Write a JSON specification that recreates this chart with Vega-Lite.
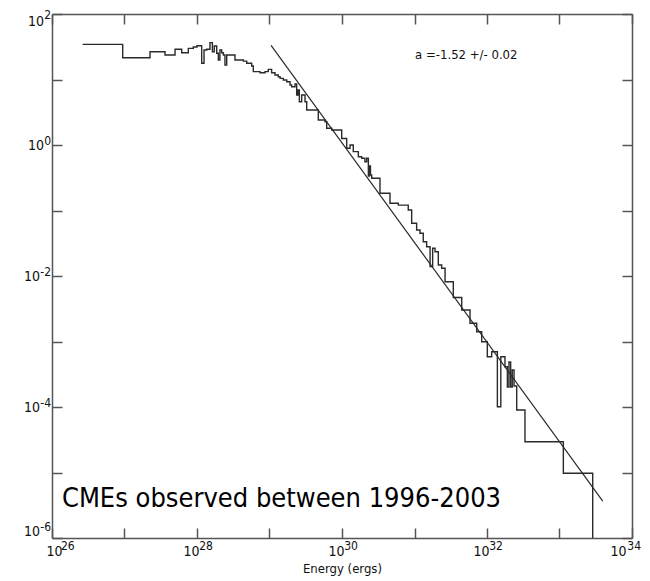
{
  "$schema": "https://vega.github.io/schema/vega-lite/v6.json",
  "width": 580,
  "height": 524,
  "autosize": "none",
  "padding": {"left": 52, "top": 14, "right": 18, "bottom": 43},
  "background": "white",
  "config": {
    "view": {"stroke": null},
    "font": "DejaVu Sans Condensed",
    "axis": {
      "grid": false,
      "domainColor": "#555",
      "domainWidth": 1.5,
      "tickColor": "#555",
      "tickWidth": 1.5,
      "tickSize": -10,
      "labelPadding": 13,
      "labelFont": "DejaVu Sans Condensed",
      "labelFontSize": 14,
      "labelColor": "#111",
      "labelOverlap": false,
      "labelBound": false,
      "titleFont": "DejaVu Sans Condensed",
      "titleFontWeight": "normal",
      "titleFontSize": 13,
      "titleColor": "#111"
    }
  },
  "datasets": {
    "hist": [
      {"E": 2.65e26, "N": 34.4},
      {"E": 9.44e26, "N": 21.5},
      {"E": 2.25e27, "N": 26.5},
      {"E": 3.62e27, "N": 23.7},
      {"E": 4.98e27, "N": 28.9},
      {"E": 6.15e27, "N": 25.6},
      {"E": 7.59e27, "N": 29.9},
      {"E": 8.89e27, "N": 31.3},
      {"E": 1.0e28, "N": 32.8},
      {"E": 1.16e28, "N": 17.7},
      {"E": 1.25e28, "N": 28.2},
      {"E": 1.36e28, "N": 28.9},
      {"E": 1.51e28, "N": 36.5},
      {"E": 1.63e28, "N": 26.5},
      {"E": 1.73e28, "N": 32.4},
      {"E": 1.87e28, "N": 25.1},
      {"E": 1.97e28, "N": 19.9},
      {"E": 2.07e28, "N": 28.2},
      {"E": 2.19e28, "N": 25.6},
      {"E": 2.31e28, "N": 23.7},
      {"E": 2.43e28, "N": 16.6},
      {"E": 2.57e28, "N": 23.7},
      {"E": 3.34e28, "N": 19.9},
      {"E": 4.36e28, "N": 19.1},
      {"E": 4.85e28, "N": 17.7},
      {"E": 5.68e28, "N": 16.1},
      {"E": 5.98e28, "N": 13.2},
      {"E": 7.40e28, "N": 12.7},
      {"E": 8.67e28, "N": 13.2},
      {"E": 9.62e28, "N": 14.3},
      {"E": 1.07e29, "N": 12.7},
      {"E": 1.19e29, "N": 11.7},
      {"E": 1.32e29, "N": 11.0},
      {"E": 1.40e29, "N": 10.4},
      {"E": 1.55e29, "N": 9.82},
      {"E": 1.73e29, "N": 9.25},
      {"E": 1.92e29, "N": 8.24},
      {"E": 2.02e29, "N": 7.76},
      {"E": 2.25e29, "N": 8.53},
      {"E": 2.37e29, "N": 5.79},
      {"E": 2.47e29, "N": 6.92},
      {"E": 2.58e29, "N": 4.58},
      {"E": 2.78e29, "N": 5.79},
      {"E": 3.09e29, "N": 4.58},
      {"E": 3.26e29, "N": 3.42},
      {"E": 4.71e29, "N": 2.41},
      {"E": 5.83e29, "N": 2.27},
      {"E": 6.15e29, "N": 1.80},
      {"E": 7.21e29, "N": 1.69},
      {"E": 9.91e29, "N": 1.26},
      {"E": 1.16e30, "N": 0.891},
      {"E": 1.29e30, "N": 1.0},
      {"E": 1.43e30, "N": 0.791},
      {"E": 1.68e30, "N": 0.662},
      {"E": 1.87e30, "N": 0.627},
      {"E": 2.07e30, "N": 0.556},
      {"E": 2.19e30, "N": 0.627},
      {"E": 2.31e30, "N": 0.337},
      {"E": 2.39e30, "N": 0.478},
      {"E": 2.47e30, "N": 0.348},
      {"E": 2.57e30, "N": 0.310},
      {"E": 3.34e30, "N": 0.183},
      {"E": 4.59e30, "N": 0.129},
      {"E": 5.98e30, "N": 0.121},
      {"E": 8.20e30, "N": 0.102},
      {"E": 9.14e30, "N": 0.0638},
      {"E": 1.07e31, "N": 0.0504},
      {"E": 1.19e31, "N": 0.0449},
      {"E": 1.32e31, "N": 0.0334},
      {"E": 1.47e31, "N": 0.0280},
      {"E": 1.64e31, "N": 0.0139},
      {"E": 1.78e31, "N": 0.0265},
      {"E": 1.92e31, "N": 0.0235},
      {"E": 2.13e31, "N": 0.0147},
      {"E": 2.37e31, "N": 0.0131},
      {"E": 2.64e31, "N": 0.00818},
      {"E": 3.43e31, "N": 0.00470},
      {"E": 4.48e31, "N": 0.00303},
      {"E": 5.83e31, "N": 0.00190},
      {"E": 7.21e31, "N": 0.00141},
      {"E": 8.45e31, "N": 0.000993},
      {"E": 1.01e32, "N": 0.000586},
      {"E": 1.16e32, "N": 0.000698},
      {"E": 1.39e32, "N": 0.000101},
      {"E": 1.55e32, "N": 0.000586},
      {"E": 1.77e32, "N": 0.000412},
      {"E": 1.91e32, "N": 0.000202},
      {"E": 2.01e32, "N": 0.000486},
      {"E": 2.12e32, "N": 0.000202},
      {"E": 2.23e32, "N": 0.000367},
      {"E": 2.36e32, "N": 0.000209},
      {"E": 2.57e32, "N": 0.0000899},
      {"E": 3.34e32, "N": 0.0000295},
      {"E": 1.13e33, "N": 0.00000973},
      {"E": 2.87e33, "N": 0.000001}
    ],
    "fit": [
      {"E": 1.05e29, "N": 33.1},
      {"E": 3.95e33, "N": 0.00000366}
    ]
  },
  "layer": [
    {
      "data": {"name": "hist"},
      "mark": {"type": "line", "interpolate": "step-after", "stroke": "#2a2a2a", "strokeWidth": 1.4},
      "encoding": {
        "x": {
          "field": "E", "type": "quantitative",
          "scale": {"type": "log", "domain": [1e26, 1e34], "nice": false},
          "axis": {
            "orient": "bottom",
            "title": "Energy (ergs)",
            "titlePadding": 4,
            "labelPadding": 16,
            "labelOffset": -6,
            "values": [1e26, 1e27, 1e28, 1e29, 1e30, 1e31, 1e32, 1e33, 1e34],
            "labelExpr": "round(log(datum.value)/LN10) % 2 == 0 ? '10' : ''"
          }
        },
        "y": {
          "field": "N", "type": "quantitative",
          "scale": {"type": "log", "domain": [1e-6, 100], "nice": false},
          "axis": {
            "orient": "left",
            "title": null,
            "labelPadding": 18.5,
            "labelFlush": true,
            "values": [1e-6, 1e-5, 1e-4, 1e-3, 1e-2, 1e-1, 1, 10, 100],
            "labelExpr": "datum.value == 1 || datum.value == 100 ? '10' : ''"
          }
        }
      }
    },
    {
      "data": {"name": "fit"},
      "mark": {"type": "line", "stroke": "#2a2a2a", "strokeWidth": 1.2},
      "encoding": {
        "x": {
          "field": "E", "type": "quantitative",
          "scale": {"type": "log", "domain": [1e26, 1e34], "nice": false},
          "axis": {
            "orient": "top", "title": null, "labels": false,
            "values": [1e26, 1e27, 1e28, 1e29, 1e30, 1e31, 1e32, 1e33, 1e34]
          }
        },
        "y": {
          "field": "N", "type": "quantitative",
          "scale": {"type": "log", "domain": [1e-6, 100], "nice": false},
          "axis": {
            "orient": "right", "title": null, "labels": false,
            "values": [1e-6, 1e-5, 1e-4, 1e-3, 1e-2, 1e-1, 1, 10, 100]
          }
        }
      }
    },
    {
      "data": {"values": [{"E": 1.02e31, "N": 20.6, "label": "a =-1.52 +/- 0.02"}]},
      "mark": {"type": "text", "align": "left", "baseline": "alphabetic", "fontSize": 13, "font": "DejaVu Sans Condensed", "color": "#111"},
      "encoding": {
        "x": {
          "field": "E", "type": "quantitative", "scale": {"type": "log"},
          "axis": {
            "orient": "bottom", "title": null, "domain": false, "ticks": false,
            "labelFontSize": 12, "labelPadding": 2, "labelOffset": 8.5,
            "values": [1e26, 1e28, 1e30, 1e32, 1e34],
            "labelExpr": "'' + round(log(datum.value)/LN10)"
          }
        },
        "y": {
          "field": "N", "type": "quantitative", "scale": {"type": "log"},
          "axis": {
            "orient": "left", "title": null, "domain": false, "ticks": false,
            "labelFontSize": 12, "labelPadding": 1.5, "labelOffset": -5, "labelFlush": true,
            "values": [1e-6, 1e-4, 1e-2, 1, 100],
            "labelExpr": "'' + round(log(datum.value)/LN10)"
          }
        },
        "text": {"field": "label"}
      }
    },
    {
      "data": {"values": [{"E": 1.37e26, "N": 2.97e-6, "label": "CMEs observed between 1996-2003"}]},
      "mark": {"type": "text", "align": "left", "baseline": "alphabetic", "fontSize": 27, "font": "DejaVu Sans Condensed", "color": "#000"},
      "encoding": {
        "x": {"field": "E", "type": "quantitative", "scale": {"type": "log"}, "axis": null},
        "y": {
          "field": "N", "type": "quantitative", "scale": {"type": "log"},
          "axis": {
            "orient": "left", "title": null, "domain": false, "ticks": false,
            "labelPadding": 12.5, "labelFlush": true,
            "values": [1e-6, 1e-4, 1e-2],
            "labelExpr": "'10'"
          }
        },
        "text": {"field": "label"}
      }
    }
  ],
  "resolve": {"axis": {"x": "independent", "y": "independent"}}
}
